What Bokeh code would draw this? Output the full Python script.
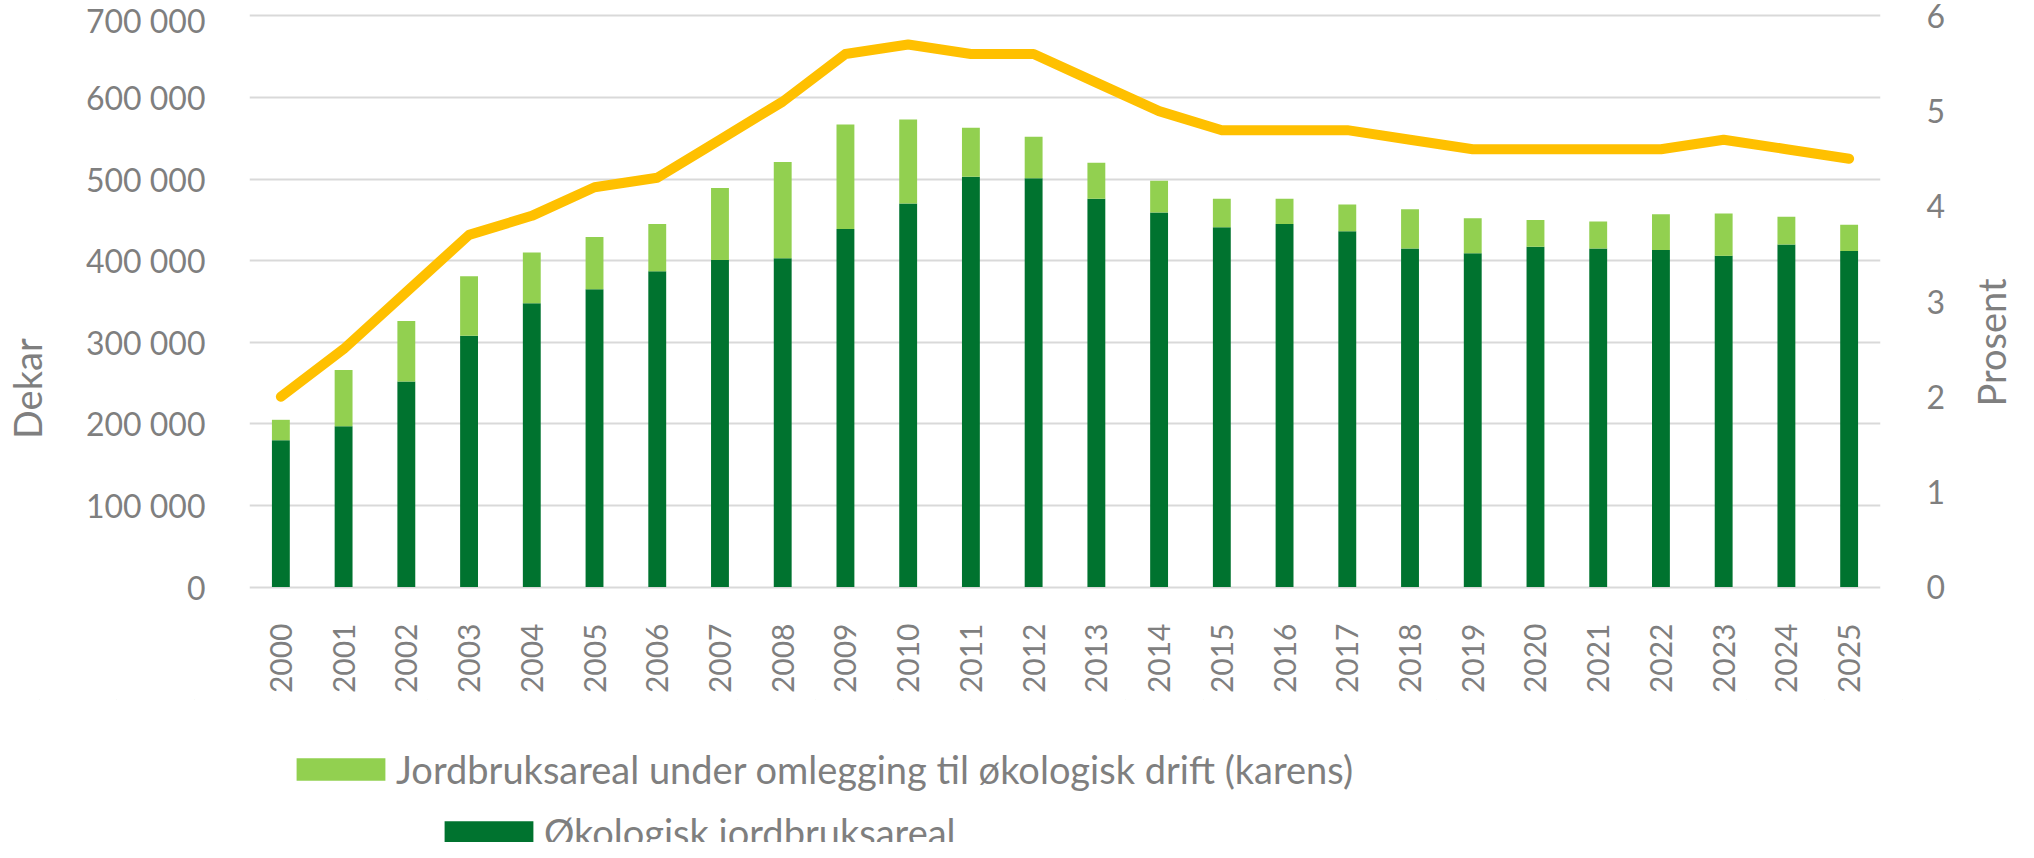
from math import pi
from bokeh.plotting import figure
from bokeh.layouts import column, row
from bokeh.models import (ColumnDataSource, FactorRange, Range1d, LinearAxis,
                          FixedTicker, Legend, LegendItem, Label)
from bokeh.embed import file_html
from bokeh.resources import INLINE

# ---- data ----
years = ["2000", "2001", "2002", "2003", "2004", "2005", "2006", "2007", "2008",
         "2009", "2010", "2011", "2012", "2013", "2014", "2015", "2016", "2017",
         "2018", "2019", "2020", "2021", "2022", "2023", "2024", "2025"]

# Økologisk jordbruksareal (dekar)
oko = [180000, 197000, 252000, 308000, 348000, 365000, 387000, 401000, 403000,
       439000, 470000, 503000, 501000, 476000, 459000, 441000, 445000, 436000,
       415000, 409000, 417000, 415000, 413000, 406000, 420000, 412000]

# Jordbruksareal under omlegging (karens) (dekar)
karens = [25000, 69000, 74000, 73000, 62000, 64000, 58000, 88000, 118000,
          128000, 103000, 60000, 51000, 44000, 39000, 35000, 31000, 33000,
          48000, 43000, 33000, 33000, 44000, 52000, 34000, 32000]

# Andel økologisk areal (prosent, høyre akse)
andel = [2.0, 2.5, 3.1, 3.7, 3.9, 4.2, 4.3, 4.7, 5.1, 5.6, 5.7, 5.6, 5.6, 5.3,
         5.0, 4.8, 4.8, 4.8, 4.7, 4.6, 4.6, 4.6, 4.6, 4.7, 4.6, 4.5]

left_ticks = [0, 100000, 200000, 300000, 400000, 500000, 600000, 700000]
left_tick_labels = ["0", "100 000", "200 000", "300 000", "400 000",
                    "500 000", "600 000", "700 000"]
right_ticks = [0, 1, 2, 3, 4, 5, 6]

left_title = "Dekar"
right_title = "Prosent"
legend_karens = "Jordbruksareal under omlegging til økologisk drift (karens)"
legend_oko = "Økologisk jordbruksareal"

# ---- styles ----
DARK = "#00732F"
LIGHT = "#92D050"
GOLD = "#FFC000"
GREY = "#7f7f7f"
GRID = "#d9d9d9"
FONT = "Lato"
NBSP = "\u00a0"

LEFT_MAX = 700000
RIGHT_MAX = 6
PAD = 3000  # small padding so the 0 and top grid lines are not clipped

W = 2018
W_SIDE = 60
W_MAIN = W - W_SIDE
H_MAIN = 699
H_LEG = 842 - H_MAIN


def no_align(fig):
    if "frame_align" in fig.properties():
        fig.frame_align = False


src = ColumnDataSource(dict(year=years, oko=oko, karens=karens, andel=andel))

# ---- main chart ----
p = figure(x_range=FactorRange(*years), y_range=Range1d(-PAD, LEFT_MAX + PAD),
           width=W_MAIN, height=H_MAIN, output_backend="svg", toolbar_location=None,
           min_border_left=245, min_border_right=78, min_border_top=13,
           min_border_bottom=110)
no_align(p)
ratio = RIGHT_MAX / LEFT_MAX
p.extra_y_ranges = {"pct": Range1d(-PAD * ratio, (LEFT_MAX + PAD) * ratio)}

bars = p.vbar_stack(["oko", "karens"], x="year", width=0.285,
                    fill_color=[DARK, LIGHT], line_color=None, source=src)

p.line(x="year", y="andel", source=src, y_range_name="pct", line_width=10,
       line_color=GOLD, line_cap="round", line_join="round")

right_axis = LinearAxis(y_range_name="pct", ticker=FixedTicker(ticks=right_ticks))
p.add_layout(right_axis, "right")

left_axis = p.yaxis[0]
left_axis.ticker = FixedTicker(ticks=left_ticks)
left_axis.major_label_overrides = {t: s for t, s in zip(left_ticks, left_tick_labels)}
left_axis.major_label_standoff = 38
right_axis.major_label_standoff = 40

for ax in [left_axis, right_axis, p.xaxis[0]]:
    ax.axis_line_color = None
    ax.major_tick_line_color = None
    ax.minor_tick_line_color = None
    ax.major_label_text_color = GREY
    ax.major_label_text_font = FONT
    ax.major_label_text_font_size = "32px"
    ax.axis_label_text_color = GREY
    ax.axis_label_text_font = FONT
    ax.axis_label_text_font_size = "38px"
    ax.axis_label_text_font_style = "normal"

# left axis title (trailing no-break spaces shift the visible text downward)
left_axis.axis_label = left_title + NBSP * 18
left_axis.axis_label_standoff = 33

p.xaxis.major_label_orientation = pi / 2
p.xaxis.major_label_standoff = 28
p.xaxis.major_label_text_font_size = "30px"

p.xgrid.grid_line_color = None
p.ygrid.grid_line_color = GRID
p.ygrid.grid_line_width = 2
p.outline_line_color = None
p.background_fill_color = "white"
p.border_fill_color = "white"

# ---- narrow strip on the right holding the right axis title ----
r = figure(x_range=Range1d(0, 1), y_range=Range1d(0, 1), width=W_SIDE, height=H_MAIN,
           output_backend="svg", toolbar_location=None, min_border=0,
           x_axis_location=None, y_axis_location=None)
no_align(r)
r.grid.visible = False
r.outline_line_color = None
r.background_fill_color = "white"
r.border_fill_color = "white"
r.add_layout(Label(x=32, y=H_MAIN - 342, x_units="screen", y_units="screen",
                   text=right_title, angle=pi / 2, text_align="center",
                   text_baseline="middle", text_font=FONT, text_font_size="38px",
                   text_color=GREY))

# ---- legend strip below the chart ----
q = figure(x_range=FactorRange(*years), y_range=Range1d(-2e6, -1e6), width=W,
           height=H_LEG, output_backend="svg", toolbar_location=None, min_border=0,
           x_axis_location=None, y_axis_location=None)
no_align(q)
q.grid.visible = False
q.outline_line_color = None
q.background_fill_color = "white"
q.border_fill_color = "white"

# legend keys: same series, hair-thin and outside this strip's visible range
keys = q.vbar_stack(["oko", "karens"], x="year", width=0.001,
                    fill_color=[DARK, LIGHT], line_color=None, source=src)

common = dict(orientation="horizontal", glyph_width=111, glyph_height=28,
              label_standoff=0, padding=0, margin=0, border_line_color=None,
              background_fill_alpha=0, label_text_font=FONT,
              label_text_font_size="38px", label_text_color=GREY)
leg1 = Legend(items=[LegendItem(label=legend_karens, renderers=[keys[1]])],
              location=(285, 50), **common)
leg2 = Legend(items=[LegendItem(label=legend_oko, renderers=[keys[0]])],
              location=(433, -13), **common)
q.add_layout(leg1)
q.add_layout(leg2)

open("out.html", "w").write(file_html(column(row(p, r), q), INLINE))
